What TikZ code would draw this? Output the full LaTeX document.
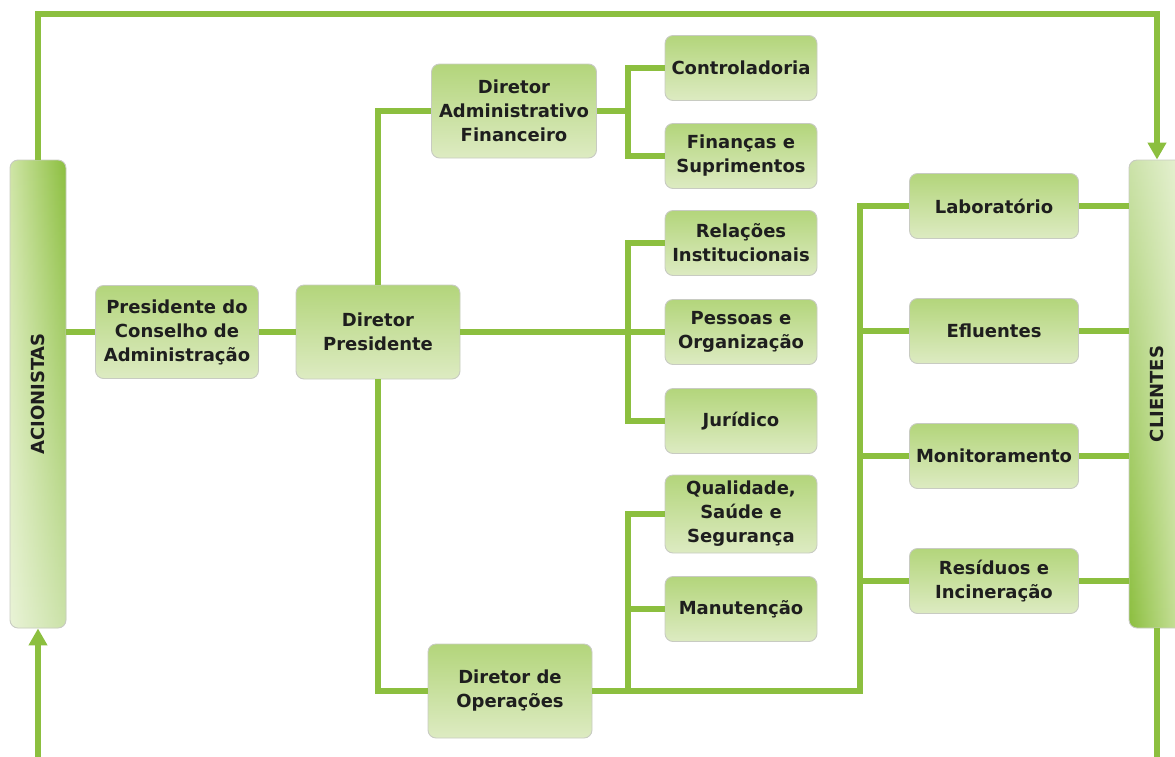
\documentclass[tikz,border=0pt]{standalone}
\usepackage{fontspec}
\setmainfont{DejaVu Sans}
\usetikzlibrary{fadings,arrows.meta}

\definecolor{lnG}{HTML}{8CBF3F}
\definecolor{boxTop}{HTML}{B3D57B}
\definecolor{boxBot}{HTML}{DDEBC2}
\definecolor{sideLight}{HTML}{CFE5A6}
\definecolor{edgeG}{HTML}{C8CBC2}
\definecolor{txt}{HTML}{1E1E1E}

\tikzfading[name=hazebottom, top color=transparent!100, bottom color=transparent!45]
\tikzfading[name=hazetop, top color=transparent!45, bottom color=transparent!100]

\begin{document}
\begin{tikzpicture}[x=1pt,y=-1pt,
  unit/.style={rectangle, rounded corners=8pt, draw=edgeG, line width=0.9pt,
    top color=boxTop, bottom color=boxBot, text=txt, align=center, inner sep=0pt,
    font=\bfseries\fontsize{18}{24}\selectfont},
  small/.style={unit, minimum width=152pt, minimum height=65pt},
  side/.style={rectangle, rounded corners=8pt, draw=edgeG, line width=0.9pt,
    minimum width=56pt, minimum height=468pt, inner sep=0pt},
  sidetext/.style={rotate=90, text=txt, font=\bfseries\fontsize{18}{20}\selectfont},
  link/.style={draw=lnG, line width=6pt},
  tip/.style={-{Triangle[width=18pt,length=17pt]}},
]
\useasboundingbox (0,0) rectangle (1175,756);

% side bars
\node[side, left color=sideLight, right color=lnG,
  path picture={\fill[white, path fading=hazebottom]
    (path picture bounding box.north west) rectangle (path picture bounding box.south east);}]
  (aci) at (38,394) {};
\node[sidetext] at (aci.center) {ACIONISTAS};

\node[side, left color=lnG, right color=sideLight,
  path picture={\fill[white, path fading=hazetop]
    (path picture bounding box.north west) rectangle (path picture bounding box.south east);}]
  (cli) at (1157,394) {};
\node[sidetext] at (cli.center) {CLIENTES};

% board and directors
\node[unit, minimum width=163pt, minimum height=93pt] (pdc) at (177,332) {Presidente do\\Conselho de\\Administração};
\node[unit, minimum width=164pt, minimum height=94pt] (dp) at (378,332) {Diretor\\Presidente};
\node[unit, minimum width=165pt, minimum height=94pt] (daf) at (514,111) {Diretor\\Administrativo\\Financeiro};
\node[unit, minimum width=164pt, minimum height=94pt] (dop) at (510,691) {Diretor de\\Operações};

% departments
\node[small] (ctl) at (741,68) {Controladoria};
\node[small] (fin) at (741,156) {Finanças e\\Suprimentos};
\node[small] (rel) at (741,243) {Relações\\Institucionais};
\node[small] (pes) at (741,332) {Pessoas e\\Organização};
\node[small] (jur) at (741,421) {Jurídico};
\node[small, minimum height=78pt] (qss) at (741,514) {Qualidade,\\Saúde e\\Segurança};
\node[small] (man) at (741,609) {Manutenção};

% operating units
\node[unit, minimum width=169pt, minimum height=65pt] (lab) at (994,206) {Laboratório};
\node[unit, minimum width=169pt, minimum height=65pt] (efl) at (994,331) {Efluentes};
\node[unit, minimum width=169pt, minimum height=65pt] (mon) at (994,456) {Monitoramento};
\node[unit, minimum width=169pt, minimum height=65pt] (res) at (994,581) {Resíduos e\\Incineração};

% bus points
\coordinate (busA) at (628,332);
\coordinate (busB) at (628,111);
\coordinate (busC) at (628,691);
\coordinate (busD) at (860,691);
\coordinate (topY) at (0,14);
\coordinate (botY) at (0,790);

% main chain
\draw[link] (aci.east |- pdc.west) -- (pdc.west);
\draw[link] (pdc.east) -- (dp.west);
\draw[link] (dp.east) -- (pes.west);
\draw[link] (rel.west) -| (busA) |- (jur.west);

% administrative branch
\draw[link] (dp.north) |- (daf.west);
\draw[link] (daf.east) -- (busB);
\draw[link] (ctl.west) -| (busB) |- (fin.west);

% operations branch
\draw[link] (dp.south) |- (dop.west);
\draw[link] (dop.east) -- (busD) |- (lab.west);
\draw[link] (qss.west) -| (busC);
\draw[link] (man.west) -- (busC |- man.west);
\draw[link] (busD |- efl.west) -- (efl.west);
\draw[link] (busD |- mon.west) -- (mon.west);
\draw[link] (busD |- res.west) -- (res.west);

% units to clients
\draw[link] (lab.east) -- (lab.east -| cli.west);
\draw[link] (efl.east) -- (efl.east -| cli.west);
\draw[link] (mon.east) -- (mon.east -| cli.west);
\draw[link] (res.east) -- (res.east -| cli.west);

% outer loop
\draw[link, tip] (aci.north) -- (aci.north |- topY) -| (cli.north);
\draw[link] (cli.south) -- (cli.south |- botY);
\draw[link, tip] (aci.south |- botY) -- (aci.south);
\end{tikzpicture}
\end{document}
